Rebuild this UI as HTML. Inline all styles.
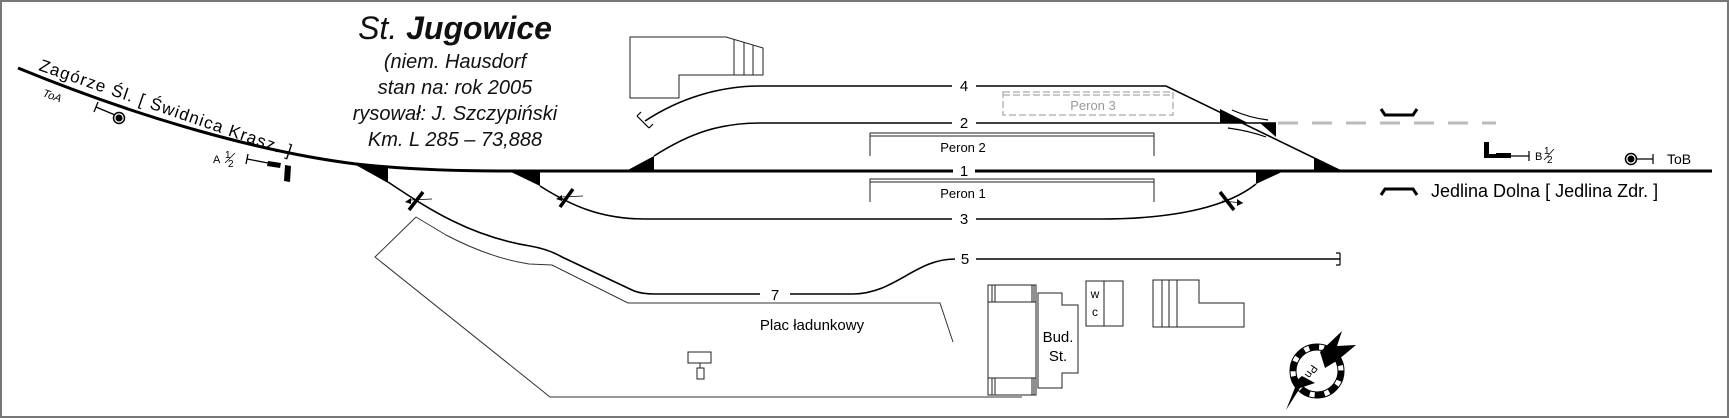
<!DOCTYPE html>
<html><head><meta charset="utf-8"><style>
html,body{margin:0;padding:0;background:#fff;}
svg{display:block;}
text{font-family:"Liberation Sans",Arial,sans-serif;}
</style></head><body>
<svg width="1729" height="418" viewBox="0 0 1729 418" xmlns="http://www.w3.org/2000/svg">
<rect x="1" y="1" width="1727" height="416" fill="#fff" stroke="#777" stroke-width="2"/>

<g font-style="italic" text-anchor="middle" fill="#111">
<text x="455" y="39" font-size="32">St. <tspan font-weight="bold">Jugowice</tspan></text>
<text x="455" y="68" font-size="20">(niem. Hausdorf</text>
<text x="455" y="94" font-size="20">stan na: rok 2005</text>
<text x="455" y="120" font-size="20">rysował: J. Szczypiński</text>
<text x="455" y="146" font-size="20">Km. L 285 – 73,888</text>
</g>

<path d="M18,68 C140,118 260,152 356,164 Q420,171 500,171 L1712,171" fill="none" stroke="#000" stroke-width="3"/>
<rect x="953" y="164" width="22" height="14" fill="#fff"/>
<text transform="translate(38,70) rotate(19)" font-size="17" textLength="266">Zagórze Śl. [ Świdnica Krasz. ]</text>
<text transform="translate(42,96) rotate(20)" font-size="11" font-style="italic">ToA</text>
<g stroke="#000" stroke-width="1.3" fill="none">
<line x1="96" y1="107" x2="115" y2="115"/><line x1="98" y1="102" x2="94" y2="112"/>
</g>
<circle cx="119" cy="118" r="5.5" fill="#fff" stroke="#000" stroke-width="1.5"/>
<circle cx="119" cy="118" r="3.5" fill="#000"/>
<text x="213" y="163" font-size="11">A</text>
<text x="225" y="158" font-size="10">1</text>
<text x="228" y="167" font-size="10">2</text>
<line x1="225" y1="163" x2="235" y2="153" stroke="#000" stroke-width="0.8"/>
<g stroke="#000" stroke-width="1.3"><line x1="247" y1="159" x2="268" y2="163"/><line x1="248" y1="154" x2="246" y2="164"/></g>
<polygon points="268,161 281,163 280,168 267,166" fill="#000"/>
<polygon points="285,165 291,166 290,182 284,181" fill="#000"/>

<g fill="#000">
<polygon points="354,164 388,168 388,183"/>
<polygon points="509,171 540,171 540,186"/>
<polygon points="626,171 654,171 654,156"/>
<polygon points="1256,171 1284,171 1256,184"/>
<polygon points="1314,158 1314,171 1341,171"/>
<polygon points="1220,109 1220,123 1248,123"/>
<polygon points="1260,123 1276,123 1276,137"/>
</g>

<g fill="none" stroke="#000" stroke-width="1.6">
<path d="M388,182 C430,210 470,236 530,246 Q548,249 562,257 L632,290 Q640,294 655,294 L760,294"/>
<path d="M790,294 L852,294 C895,294 915,259 955,259"/>
<path d="M976,259 L1340,259"/>
<path d="M1340,253 L1340,265 M1340,253 L1336,253 M1340,265 L1336,265" stroke-width="1.2"/>
<path d="M540,186 C570,205 600,219 645,219 L952,219"/>
<path d="M976,219 L1100,219 C1180,219 1230,205 1256,184"/>
<path d="M654,156 C690,133 720,123 760,123 L952,123"/>
<path d="M976,123 L1276,123"/>
<path d="M645,121 C680,98 720,86 760,86 L952,86"/>
<path d="M976,86 L1166,86 L1341,171"/>
<path d="M637,116 L649,128 M637,116 L641,112 M649,128 L653,124" stroke-width="1.2"/>
<path d="M1232,110 Q1250,118 1268,120" stroke-width="1.2"/>
<path d="M1228,128 Q1250,131 1266,137" stroke-width="1.2"/>
</g>
<line x1="1278" y1="123" x2="1496" y2="123" stroke="#bbb" stroke-width="3" stroke-dasharray="20,14"/>

<g font-size="15" text-anchor="middle">
<text x="964" y="91">4</text>
<text x="964" y="128">2</text>
<text x="964" y="176">1</text>
<text x="964" y="224">3</text>
<text x="965" y="264">5</text>
<text x="775" y="300">7</text>
</g>

<g stroke="#000">
<line x1="409" y1="210" x2="423" y2="192" stroke-width="3.5"/>
<line x1="410" y1="200" x2="432" y2="199" stroke-width="0.8"/>
<line x1="560" y1="207" x2="573" y2="189" stroke-width="3.5"/>
<line x1="561" y1="197" x2="583" y2="196" stroke-width="0.8"/>
<line x1="1220" y1="192" x2="1234" y2="210" stroke-width="3.5"/>
<line x1="1222" y1="201" x2="1243" y2="203" stroke-width="0.8"/>
</g>
<polygon points="405,202 411,198 411,204" fill="#000"/>
<polygon points="556,199 562,195 562,201" fill="#000"/>
<polygon points="1243,203 1237,199 1237,206" fill="#000"/>

<g fill="none" stroke="#222" stroke-width="1">
<path d="M870,156 L870,133 L1154,133 L1154,156 M870,136 L1154,136"/>
<path d="M870,202 L870,179 L1154,179 L1154,202 M870,182 L1154,182"/>
</g>
<text x="963" y="152" font-size="13" text-anchor="middle">Peron 2</text>
<text x="963" y="198" font-size="13" text-anchor="middle">Peron 1</text>
<g fill="none" stroke="#aaa" stroke-width="1.3" stroke-dasharray="7,3">
<rect x="1003" y="92" width="170" height="23"/>
<line x1="1003" y1="95" x2="1173" y2="95"/>
</g>
<text x="1093" y="110" font-size="13" fill="#999" text-anchor="middle">Peron 3</text>

<g fill="none" stroke="#222" stroke-width="1">
<path d="M630,37 L726,37 L763,48 L763,75 L679,75 L679,98 L630,98 Z"/>
<path d="M734,39 L734,75 M744,42 L744,75 M753,45 L753,75"/>
</g>

<g fill="none" stroke="#333" stroke-width="1">
<path d="M416,217 L375,257 L550,397 L1022,397"/>
<path d="M416,217 L446,235 Q490,258 529,264 L552,265 L628,303 L940,303 L953,342"/>
</g>
<text x="812" y="330" font-size="15" text-anchor="middle">Plac ładunkowy</text>
<g fill="#fff" stroke="#222" stroke-width="1">
<rect x="688" y="352" width="23" height="11"/>
<line x1="700" y1="363" x2="700" y2="368"/>
<rect x="697" y="368" width="7" height="11"/>
</g>

<g fill="#fff" stroke="#222" stroke-width="1">
<rect x="988" y="285" width="48" height="110"/>
<rect x="988" y="302" width="48" height="76"/>
<path d="M992,285 V302 M995,285 V302 M1032,285 V302 M1034,285 V302 M992,378 V395 M995,378 V395 M1032,378 V395 M1034,378 V395"/>
<path d="M1038,293 L1062,293 L1062,305 L1078,305 L1078,373 L1062,373 L1062,388 L1038,388 Z"/>
<rect x="1086" y="281" width="37" height="45"/>
<line x1="1104" y1="281" x2="1104" y2="326"/>
<path d="M1153,280 L1199,280 L1199,303 L1244,303 L1244,327 L1153,327 Z"/>
<path d="M1162,280 V327 M1169,280 V327 M1177,280 V327"/>
</g>
<text x="1058" y="342" font-size="15" text-anchor="middle">Bud.</text>
<text x="1058" y="361" font-size="15" text-anchor="middle">St.</text>
<text x="1095" y="298" font-size="12" text-anchor="middle">w</text>
<text x="1095" y="316" font-size="12" text-anchor="middle">c</text>

<circle cx="1317" cy="371" r="24" fill="none" stroke="#000" stroke-width="6" stroke-dasharray="10,5"/>
<circle cx="1317" cy="371" r="27" fill="none" stroke="#000" stroke-width="1"/>
<circle cx="1317" cy="371" r="21" fill="none" stroke="#000" stroke-width="1"/>
<polygon points="1342,331 1337,346 1356,345 1338,360 1325,368 1320,352" fill="#000"/>
<polygon points="1302,376 1315,383 1300,388 1286,410 1296,385 1297,380" fill="#000"/>
<text transform="translate(1312,364) rotate(125)" font-size="11">Pn</text>

<g fill="none" stroke="#000" stroke-width="3">
<path d="M1381,109 L1385,115 L1413,115 L1417,109"/>
<path d="M1381,195 L1385,189 L1413,189 L1417,195"/>
</g>
<text x="1431" y="197" font-size="18">Jedlina Dolna [ Jedlina Zdr. ]</text>
<polygon points="1484,142 1489,142 1489,154 1496,154 1496,158 1484,158" fill="#000"/>
<rect x="1496" y="153" width="15" height="5" fill="#000"/>
<g stroke="#000" stroke-width="1.2"><line x1="1511" y1="156" x2="1529" y2="156"/><line x1="1529" y1="151" x2="1529" y2="161"/></g>
<text x="1535" y="160" font-size="11">B</text>
<text x="1544" y="154" font-size="10">1</text>
<text x="1547" y="163" font-size="10">2</text>
<line x1="1544" y1="160" x2="1554" y2="149" stroke="#000" stroke-width="0.8"/>
<circle cx="1631" cy="159" r="5.5" fill="#fff" stroke="#000" stroke-width="1.5"/>
<circle cx="1631" cy="159" r="3.5" fill="#000"/>
<g stroke="#000" stroke-width="1.2"><line x1="1636" y1="159" x2="1653" y2="159"/><line x1="1653" y1="154" x2="1653" y2="164"/></g>
<text x="1667" y="164" font-size="14">ToB</text>
</svg>
</body></html>
